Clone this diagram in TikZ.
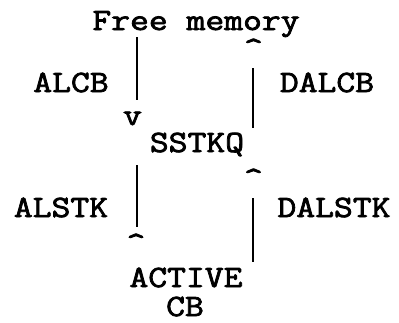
\documentclass[tikz,border=0pt]{standalone}
\usepackage{fontspec}
\newfontfamily\ttyfont[FakeStretch=1.18,FakeBold=2.5]{Latin Modern Mono}
\tikzset{
  lbl/.style={font=\ttyfont\fontsize{31}{31}\selectfont,anchor=base,inner sep=0pt},
  tty/.style={line width=2pt,line cap=butt}
}
\begin{document}
\begin{tikzpicture}[x=1pt,y=-1pt]
	\useasboundingbox (0,0) rectangle (399,322);
	% labels
	\node[lbl] (free) at (196,30) {Free memory};
	\node[lbl] (alcb) at (71,92) {ALCB};
	\node[lbl] (dalcb) at (327,92) {DALCB};
	\node[lbl] (sstkq) at (197,152) {SSTKQ};
	\node[lbl] (alstk) at (61,217) {ALSTK};
	\node[lbl] (dalstk) at (334,217) {DALSTK};
	\node[lbl] (active) at (186,287) {ACTIVE};
	\node[lbl] (cb) at (185,316) {CB};
	% heads typed as characters
	\node[lbl] (vdown) at (132.5,125) {v};
	\node[lbl] (upfree) at (253.5,58) {\textasciicircum};
	\node[lbl] (upsstkq) at (253.5,188) {\textasciicircum};
	\node[lbl] (upalstk) at (136,253) {\textasciicircum};
	% line ends
	\coordinate (la) at (137,37);
	\coordinate (lb) at (137,100);
	\coordinate (ra) at (253,68);
	\coordinate (rb) at (253,128);
	\coordinate (lc) at (137,165);
	\coordinate (ld) at (137,227);
	\coordinate (rc) at (253,198);
	\coordinate (rd) at (253,262);
	\draw[tty] (la) -- (lb);
	\draw[tty] (ra) -- (rb);
	\draw[tty] (lc) -- (ld);
	\draw[tty] (rc) -- (rd);
\end{tikzpicture}
\end{document}
